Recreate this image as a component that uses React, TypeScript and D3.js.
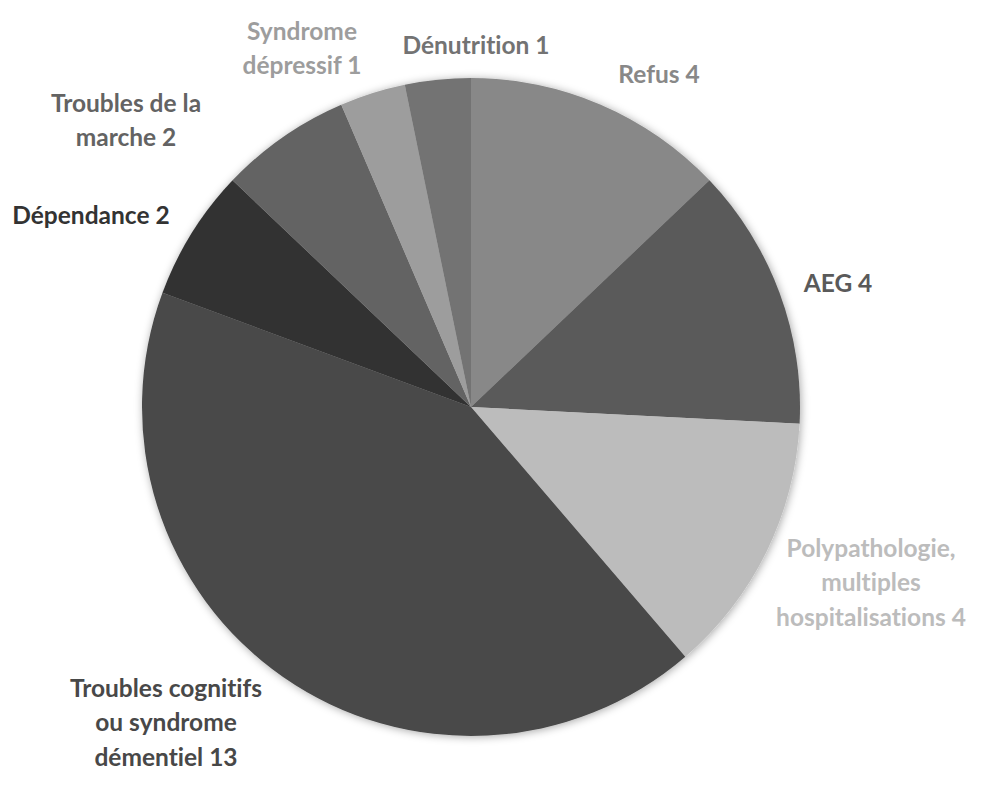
import React, { useEffect, useRef } from 'react';
import * as d3 from 'd3';

// values, clockwise from 12 o'clock
const labels = [
  'Refus 4',
  'AEG 4',
  'Polypathologie,|multiples|hospitalisations 4',
  'Troubles cognitifs|ou syndrome|démentiel 13',
  'Dépendance 2',
  'Troubles de la|marche 2',
  'Syndrome|dépressif 1',
  'Dénutrition 1',
];
const counts = [4, 4, 4, 13, 2, 2, 1, 1];
const colors = ['#888888', '#5a5a5a', '#bcbcbc', '#484848', '#333333', '#636363', '#9d9d9d', '#737373'];
// label centre offsets from pie centre (px)
const labelOffsets = [
  [188, -333],
  [367, -124],
  [400, 175],
  [-305, 315],
  [-380, -192],
  [-345, -287],
  [-169, -359],
  [5, -362],
];

const W = 988;
const H = 785;

const App = () => {
  const ref = useRef<SVGSVGElement>(null);

  useEffect(() => {
    const svg = d3.select(ref.current);
    svg.selectAll('*').remove();

    const cx = 471;
    const cy = 407;
    const r = 329;

    const defs = svg.append('defs');
    const f = defs
      .append('filter')
      .attr('id', 'shadow')
      .attr('x', '-10%')
      .attr('y', '-10%')
      .attr('width', '120%')
      .attr('height', '120%');
    f.append('feDropShadow')
      .attr('dx', 1)
      .attr('dy', 1)
      .attr('stdDeviation', 4)
      .attr('flood-color', '#000')
      .attr('flood-opacity', 0.35);

    const data = counts.map((v, i) => ({ label: labels[i], value: v, color: colors[i], off: labelOffsets[i] }));

    const pie = d3.pie<any>().value((d) => d.value).sort(null);
    const arc = d3.arc<any>().innerRadius(0).outerRadius(r);

    const g = svg.append('g').attr('transform', `translate(${cx},${cy})`);

    g.append('g')
      .attr('filter', 'url(#shadow)')
      .selectAll('path')
      .data(pie(data))
      .join('path')
      .attr('d', arc)
      .attr('fill', (d) => d.data.color);

    const lineH = 34.5;
    const txt = g
      .selectAll('text.lbl')
      .data(data)
      .join('text')
      .attr('class', 'lbl')
      .attr('text-anchor', 'middle')
      .attr('font-family', 'Lato, "Open Sans", sans-serif')
      .attr('font-weight', 'bold')
      .attr('font-size', 24.5)
      .style('font-variant-ligatures', 'none')
      .attr('fill', (d) => d.color);

    txt.each(function (d) {
      const lines = d.label.split('|');
      const t = d3.select(this);
      const y0 = d.off[1] - ((lines.length - 1) * lineH) / 2 + 9;
      lines.forEach((ln, i) => {
        t.append('tspan')
          .attr('x', d.off[0])
          .attr('y', y0 + i * lineH)
          .text(ln);
      });
    });
  }, []);

  return <svg ref={ref} width={W} height={H} style={{ display: 'block', margin: '-8px', background: '#fff' }}></svg>;
};

export default App;
